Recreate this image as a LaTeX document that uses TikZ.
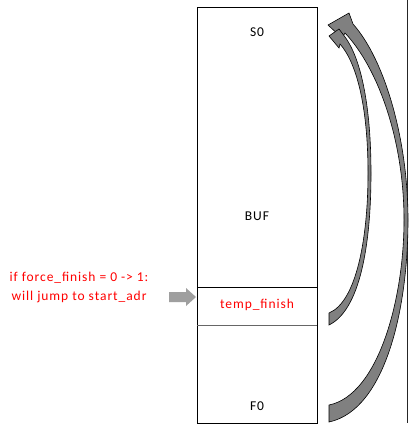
\documentclass[tikz,border=0pt]{standalone}
\usepackage{fontspec}
\setmainfont[LetterSpace=7]{Carlito}
\begin{document}
\begin{tikzpicture}[x=1pt,y=-1pt,
  lbl/.style={font=\fontsize{13.5}{19}\selectfont, inner sep=0pt},
  redlbl/.style={lbl, text=red},
  curvearrow/.style={fill=gray, draw=black, line width=0.6pt, line join=miter},
  boxline/.style={draw=black, line width=0.8pt}]
\useasboundingbox (0,0) rectangle (409,425);
\fill[white] (0,0) rectangle (409,425);
% memory box
\node[boxline, minimum width=120pt, minimum height=416pt, inner sep=0pt, anchor=north west] (mem) at (197,7) {};
\coordinate (d1l) at (197,287);
\coordinate (d1r) at (317,287);
\coordinate (d2l) at (197,325);
\coordinate (d2r) at (317,325);
\draw[line width=0.8pt] (d1l) -- (d1r);
\draw[line width=0.8pt, draw=gray!80!black] (d2l) -- (d2r);
\node[lbl] (s0) at (257,32) {S0};
\node[lbl] (buf) at (257,216) {BUF};
\node[redlbl] (tf) at (257,305) {temp\_finish};
\node[lbl] (f0) at (257,406) {F0};
% right line
\coordinate (rt) at (407,0);
\coordinate (rb) at (407,423);
\draw[line width=0.8pt, draw=black!85] (rt) -- (rb);
% left note and arrow
\node[redlbl, align=center] (note) at (79,287.5) {if force\_finish = 0 -> 1:\\will jump to start\_adr};
\fill[gray!75] (169,292) -- (186,292) -- (186,288) -- (196,297) -- (186,306) -- (186,302) -- (169,302) -- cycle;
% outer curved arrow (F0 -> S0)
\path[curvearrow] (329,405) .. controls (378,395) and (404,300) .. (404,220)
  .. controls (404,140) and (378,68) .. (345,33)
  -- (342,38) -- (328,25) -- (349,13) -- (353,24)
  .. controls (385,60) and (408,140) .. (408,220)
  .. controls (408,310) and (385,410) .. (329,422) -- cycle;
% inner curved arrow (temp_finish -> S0)
\path[curvearrow] (329,313) .. controls (356,302) and (368,240) .. (368,173)
  .. controls (368,105) and (356,62) .. (340,44)
  -- (339,48) -- (329,36) -- (339,29) -- (345,37)
  .. controls (362,60) and (371,110) .. (371,173)
  .. controls (371,245) and (360,310) .. (329,325) -- cycle;
\end{tikzpicture}
\end{document}
